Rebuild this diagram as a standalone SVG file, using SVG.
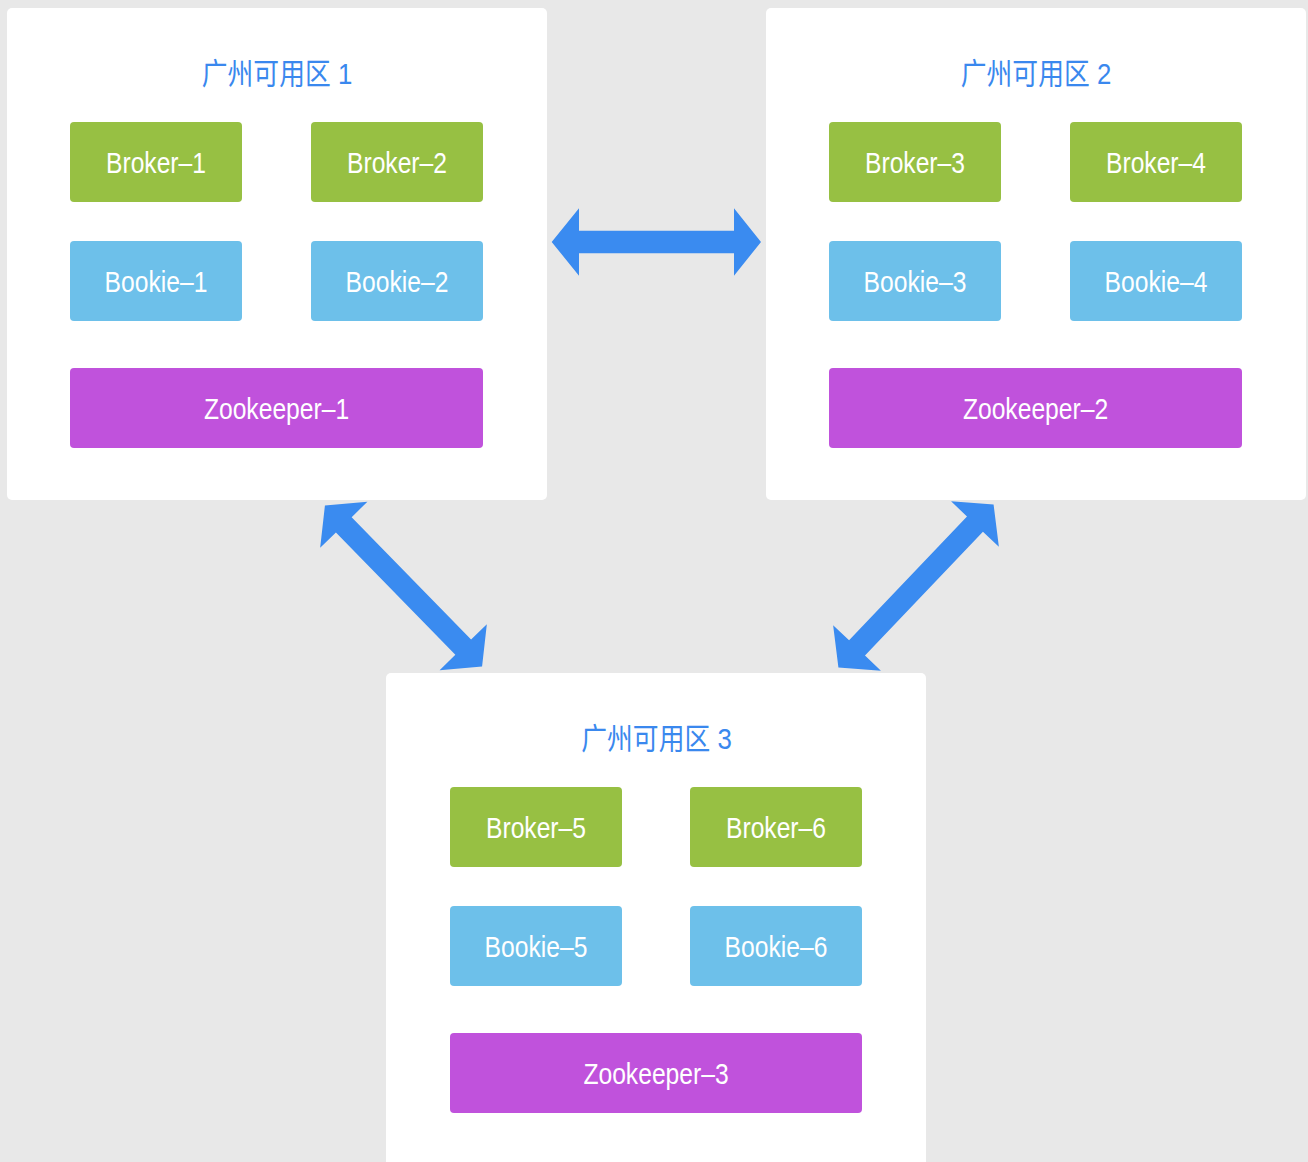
<svg xmlns="http://www.w3.org/2000/svg" width="1308" height="1162" viewBox="0 0 1308 1162">
<style>
.bg{fill:#e8e8e8}
.panel{fill:#ffffff}
.broker{fill:#97c043}
.bookie{fill:#6dc0ea}
.zk{fill:#c052dc}
.lbl{font-family:"Liberation Sans","Noto Sans",Arial,sans-serif;font-size:29px;fill:#ffffff;text-anchor:middle}
.title{font-family:"Liberation Sans","Noto Sans CJK SC",sans-serif;font-size:30px;fill:#3a88ee;text-anchor:middle}
.arrow{fill:#3a8bf0}
</style>
<defs>
<polygon id="dbl" points="-112.5,0 -85.5,-33 -85.5,-11 85.5,-11 85.5,-33 112.5,0 85.5,33 85.5,11 -85.5,11 -85.5,33"/>
</defs>
<rect class="bg" x="0" y="0" width="1308" height="1162"/>
<g id="connectors">
<polygon class="arrow" points="551.7,242 579,208.3 579,230.7 734,230.7 734,208.3 761,242 734,275.7 734,253.3 579,253.3 579,275.7"/>
<use href="#dbl" class="arrow" transform="translate(403.5,586) rotate(45.7)"/>
<use href="#dbl" class="arrow" transform="translate(916,586) rotate(133.6)"/>
</g>
<g id="zone1">
<rect class="panel" x="7" y="8" width="540" height="492" rx="5"/>
<text class="title" transform="translate(277,84) scale(0.86,1)">广州可用区 1</text>
</g>
<g id="zone2">
<rect class="panel" x="766" y="8" width="540" height="492" rx="5"/>
<text class="title" transform="translate(1036,84) scale(0.86,1)">广州可用区 2</text>
</g>
<g id="zone3">
<rect class="panel" x="386" y="673" width="540" height="500" rx="5"/>
<text class="title" transform="translate(656.5,749) scale(0.86,1)">广州可用区 3</text>
</g>
<g id="broker-1"><rect class="broker" x="70" y="122" width="172" height="80" rx="4"/><text class="lbl" transform="translate(156,172.5) scale(0.85,1)">Broker–1</text></g>
<g id="broker-2"><rect class="broker" x="311" y="122" width="172" height="80" rx="4"/><text class="lbl" transform="translate(397,172.5) scale(0.85,1)">Broker–2</text></g>
<g id="bookie-1"><rect class="bookie" x="70" y="241" width="172" height="80" rx="4"/><text class="lbl" transform="translate(156,291.5) scale(0.85,1)">Bookie–1</text></g>
<g id="bookie-2"><rect class="bookie" x="311" y="241" width="172" height="80" rx="4"/><text class="lbl" transform="translate(397,291.5) scale(0.85,1)">Bookie–2</text></g>
<g id="zookeeper-1"><rect class="zk" x="70" y="368" width="413" height="80" rx="4"/><text class="lbl" transform="translate(276.5,418.5) scale(0.85,1)">Zookeeper–1</text></g>
<g id="broker-3"><rect class="broker" x="829" y="122" width="172" height="80" rx="4"/><text class="lbl" transform="translate(915,172.5) scale(0.85,1)">Broker–3</text></g>
<g id="broker-4"><rect class="broker" x="1070" y="122" width="172" height="80" rx="4"/><text class="lbl" transform="translate(1156,172.5) scale(0.85,1)">Broker–4</text></g>
<g id="bookie-3"><rect class="bookie" x="829" y="241" width="172" height="80" rx="4"/><text class="lbl" transform="translate(915,291.5) scale(0.85,1)">Bookie–3</text></g>
<g id="bookie-4"><rect class="bookie" x="1070" y="241" width="172" height="80" rx="4"/><text class="lbl" transform="translate(1156,291.5) scale(0.85,1)">Bookie–4</text></g>
<g id="zookeeper-2"><rect class="zk" x="829" y="368" width="413" height="80" rx="4"/><text class="lbl" transform="translate(1035.5,418.5) scale(0.85,1)">Zookeeper–2</text></g>
<g id="broker-5"><rect class="broker" x="450" y="787" width="172" height="80" rx="4"/><text class="lbl" transform="translate(536,837.5) scale(0.85,1)">Broker–5</text></g>
<g id="broker-6"><rect class="broker" x="690" y="787" width="172" height="80" rx="4"/><text class="lbl" transform="translate(776,837.5) scale(0.85,1)">Broker–6</text></g>
<g id="bookie-5"><rect class="bookie" x="450" y="906" width="172" height="80" rx="4"/><text class="lbl" transform="translate(536,956.5) scale(0.85,1)">Bookie–5</text></g>
<g id="bookie-6"><rect class="bookie" x="690" y="906" width="172" height="80" rx="4"/><text class="lbl" transform="translate(776,956.5) scale(0.85,1)">Bookie–6</text></g>
<g id="zookeeper-3"><rect class="zk" x="450" y="1033" width="412" height="80" rx="4"/><text class="lbl" transform="translate(656,1083.5) scale(0.85,1)">Zookeeper–3</text></g>
</svg>
